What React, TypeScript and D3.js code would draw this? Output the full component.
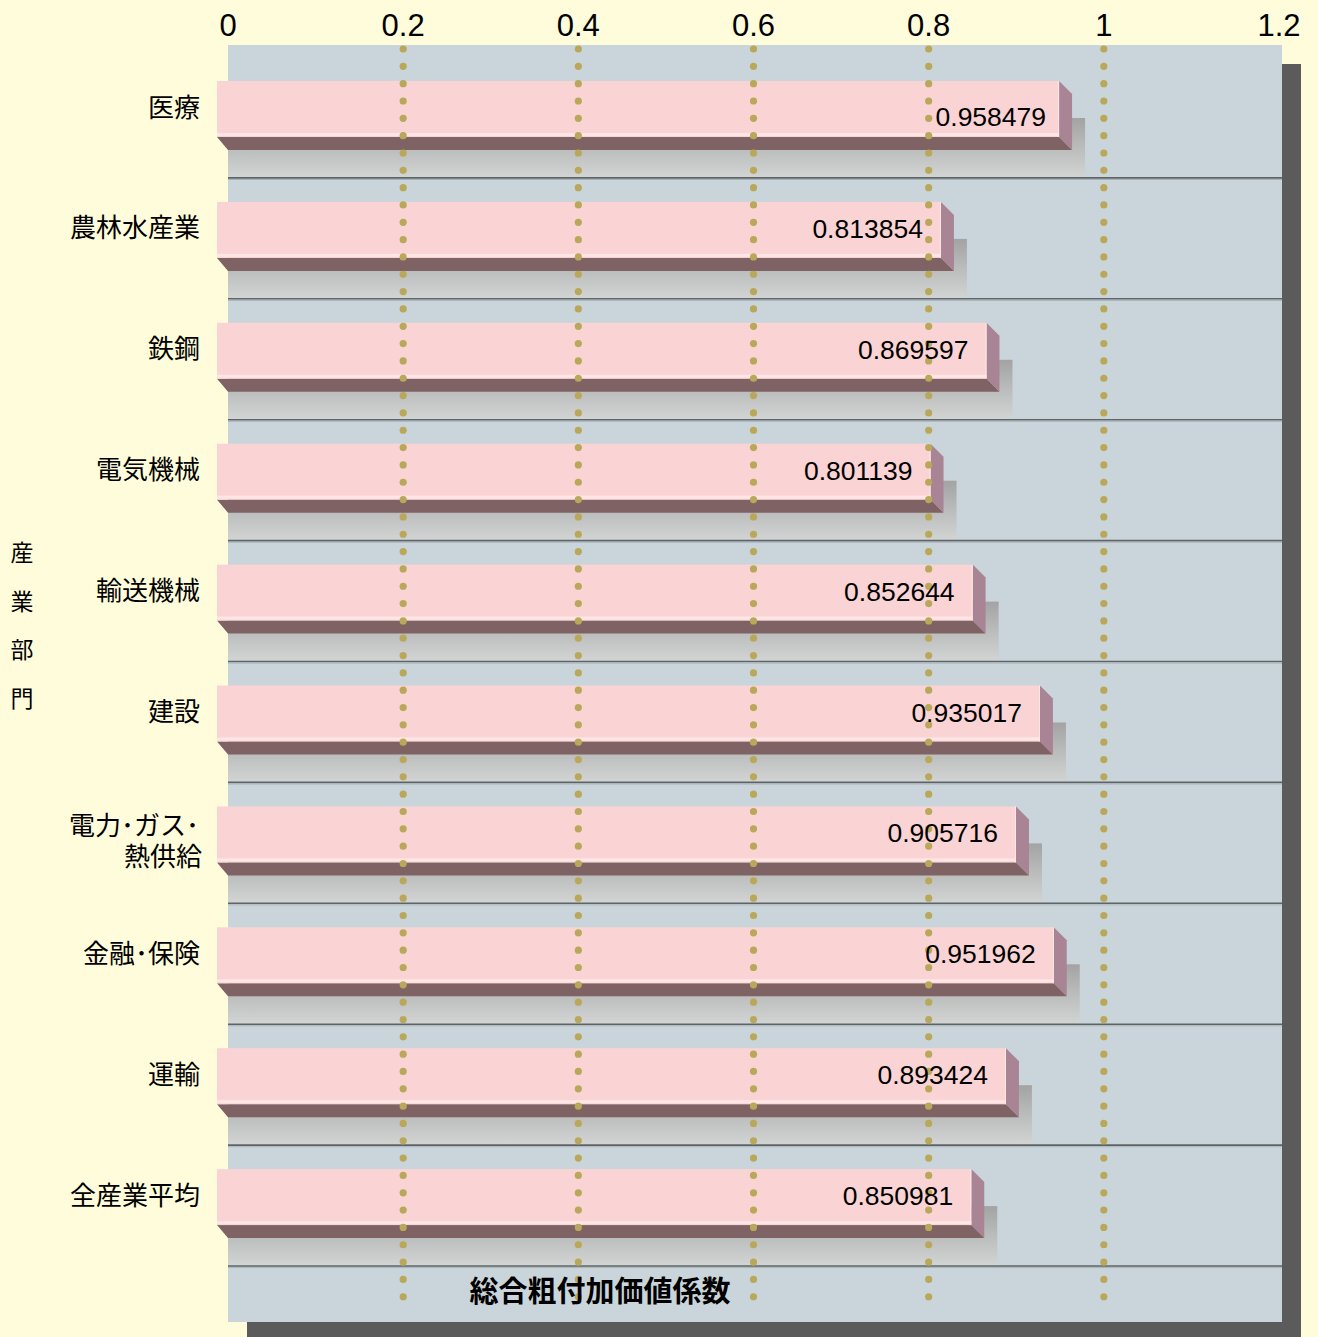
import React from "react";
import * as d3 from "d3";

// Industry sectors (top to bottom) and their total gross value-added coefficients
const categories: string[] = [
  "医療",
  "農林水産業",
  "鉄鋼",
  "電気機械",
  "輸送機械",
  "建設",
  "電力･ガス･\n熱供給",
  "金融･保険",
  "運輸",
  "全産業平均",
];
const values: number[] = [
  0.958479, 0.813854, 0.869597, 0.801139, 0.852644, 0.935017, 0.905716,
  0.951962, 0.893424, 0.850981,
];
const tickValues: number[] = [0, 0.2, 0.4, 0.6, 0.8, 1, 1.2];
const gridValues: number[] = [0.2, 0.4, 0.6, 0.8, 1];
const xTitle = "総合粗付加価値係数";
const yTitle = "産業部門";

const W = 1318;
const H = 1337;
const plot = { left: 228, top: 45, right: 1282, bottom: 1322 };
const DEPTH = 13;
const FRONT_LEFT = 217;

const CJK = "'Noto Sans CJK JP', 'Noto Sans', sans-serif";
const LATIN = "'Liberation Sans', Arial, sans-serif";

export default function App() {
  const x = d3.scaleLinear().domain([0, 1.2]).range([228, 1279]);
  // front face of the perspective bars
  const xBar = d3.scaleLinear().domain([0, 1]).range([276, 1093]);
  const y = d3.scaleBand<string>().domain(categories).range([57, 1266]).paddingInner(0);
  const rows = categories.map((c, i) => ({ c, v: values[i] }));
  const dotYs = d3.range(0, 73).map((k) => 49 + k * 17.33);

  return (
    <svg
      width={W}
      height={H}
      style={{ position: "absolute", left: 0, top: 0, display: "block" }}
    >
      <defs>
        <linearGradient id="floorShade" x1="0" y1="0" x2="0" y2="1">
          <stop offset="0" stopColor="#a3a3a3" />
          <stop offset="1" stopColor="#d2d4d4" />
        </linearGradient>
      </defs>
      <rect x={0} y={0} width={W} height={H} fill="#fffcdc" />
      {/* drop shadow of plot area */}
      <rect x={plot.left + 19} y={plot.top + 19} width={plot.right - plot.left} height={H} fill="#5b5b5b" />
      <rect x={plot.left} y={plot.top} width={plot.right - plot.left} height={plot.bottom - plot.top} fill="#c9d5da" />

      {/* floor shading under each bar */}
      {rows.map((r) => {
        const y0 = y(r.c)!;
        const fr = xBar(r.v);
        return (
          <rect
            key={"s" + r.c}
            x={plot.left}
            y={y0 + 24 + 37}
            width={fr + 2 * DEPTH - plot.left}
            height={y.bandwidth() - 24 - 37 - 1}
            fill="url(#floorShade)"
          />
        );
      })}

      {/* category separators */}
      {categories.map((c) => {
        const yy = y(c)! + y.bandwidth();
        return (
          <g key={"g" + c}>
            <line x1={plot.left} x2={plot.right} y1={yy} y2={yy} stroke="#5f6466" strokeWidth={1.6} />
            <line x1={plot.left} x2={plot.right} y1={yy + 1.6} y2={yy + 1.6} stroke="#aab3b7" strokeWidth={1} />
          </g>
        );
      })}

      {/* 3D bars */}
      {rows.map((r) => {
        const top = y(r.c)! + 24;
        const bot = top + 56;
        const fr = xBar(r.v);
        return (
          <g key={"b" + r.c}>
            <polygon
              points={`${FRONT_LEFT},${bot} ${fr},${bot} ${fr + DEPTH},${bot + DEPTH} ${FRONT_LEFT + 11},${bot + DEPTH}`}
              fill="#7f6263"
            />
            <polygon
              points={`${fr},${top} ${fr + DEPTH},${top + DEPTH} ${fr + DEPTH},${bot + DEPTH} ${fr},${bot}`}
              fill="#a88494"
            />
            <rect x={FRONT_LEFT} y={top} width={fr - FRONT_LEFT} height={bot - top} fill="#fad4d4" />
            <rect x={FRONT_LEFT} y={bot - 4} width={fr - FRONT_LEFT} height={3} fill="#ffe6e6" />
            <line x1={fr - 0.5} x2={fr - 0.5} y1={top} y2={bot} stroke="#ffe6e6" strokeWidth={1} />
          </g>
        );
      })}

      {/* dotted gridlines */}
      {gridValues.map((v) => (
        <g key={"d" + v}>
          {dotYs.map((dy) => (
            <circle key={dy} cx={x(v)} cy={dy} r={3.6} fill="#b9a85a" />
          ))}
        </g>
      ))}

      {/* value labels */}
      {rows.map((r, i) => {
        const cy = y(r.c)! + 24 + 27 + (i === 0 ? 9 : 0);
        return (
          <text
            key={"v" + r.c}
            x={xBar(r.v) - (i === 0 ? 13 : 18)}
            y={cy}
            textAnchor="end"
            dominantBaseline="central"
            fontFamily={LATIN}
            fontSize={26.5}
            fill="#000"
          >
            {r.v.toFixed(6)}
          </text>
        );
      })}

      {/* top axis ticks */}
      {tickValues.map((t) => (
        <text
          key={"t" + t}
          x={x(t)}
          y={36}
          textAnchor="middle"
          fontFamily={LATIN}
          fontSize={31}
          fill="#000"
        >
          {String(t)}
        </text>
      ))}

      {/* category labels */}
      {rows.map((r) => {
        const cy = y(r.c)! + 24 + 28;
        const lines = r.c.split("\n");
        const offsets = lines.length === 1 ? [-4] : [-11, 20];
        return (
          <g key={"c" + r.c}>
            {lines.map((ln, k) => (
              <text
                key={k}
                x={lines.length === 1 ? 200 : k === 0 ? 199 : 202}
                y={cy + offsets[k]}
                textAnchor="end"
                dominantBaseline="central"
                fontFamily={CJK}
                fontSize={26}
                fill="#000"
              >
                {ln}
              </text>
            ))}
          </g>
        );
      })}

      {/* y axis title, stacked vertically */}
      {Array.from(yTitle).map((ch, i) => (
        <text
          key={"y" + i}
          x={22}
          y={551 + i * 48.5}
          textAnchor="middle"
          dominantBaseline="central"
          fontFamily={CJK}
          fontSize={23}
          fill="#000"
        >
          {ch}
        </text>
      ))}

      {/* x axis title */}
      <text
        x={600}
        y={1289}
        textAnchor="middle"
        dominantBaseline="central"
        fontFamily={CJK}
        fontWeight="bold"
        fontSize={29}
        fill="#000"
      >
        {xTitle}
      </text>
    </svg>
  );
}
